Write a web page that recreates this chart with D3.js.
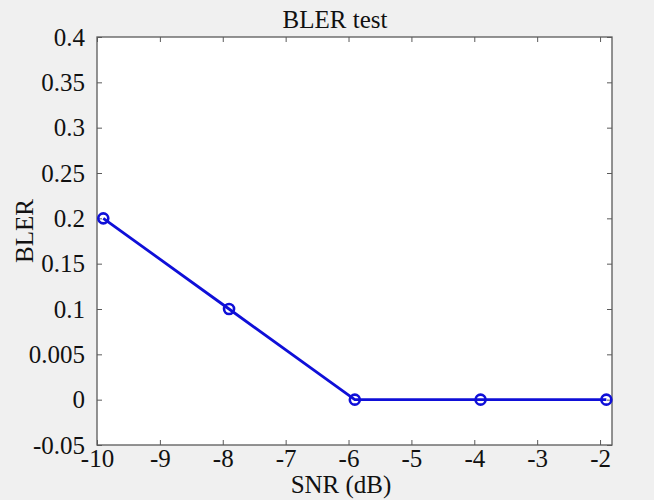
<!DOCTYPE html>
<html><head><meta charset="utf-8">
<script src="https://cdn.jsdelivr.net/npm/d3@7"></script>
<style>
html,body{margin:0;padding:0;background:#f0f0f0;}
svg{display:block;}
text{font-family:"Liberation Serif","Times New Roman",serif;fill:#111;}
</style></head><body>
<svg id="chart" width="654" height="500"></svg>
<script>
const snr = [-9.9, -7.9, -5.9, -3.9, -1.9];
const bler = [0.2, 0.1, 0, 0, 0];
const xTicks = [-10, -9, -8, -7, -6, -5, -4, -3, -2];
const xTickLabels = ["-10", "-9", "-8", "-7", "-6", "-5", "-4", "-3", "-2"];
const yTicks = [-0.05, 0, 0.05, 0.1, 0.15, 0.2, 0.25, 0.3, 0.35, 0.4];
const yTickLabels = ["-0.05", "0", "0.005", "0.1", "0.15", "0.2", "0.25", "0.3", "0.35", "0.4"];
const xDomain = [-10, -1.81];
const yDomain = [-0.05, 0.4];
const title = "BLER test";
const xLabel = "SNR (dB)";
const yLabel = "BLER";

const svg = d3.select("#chart");
const L = 97, R = 612, T = 37, B = 445;
const x = d3.scaleLinear().domain(xDomain).range([L, R]);
const y = d3.scaleLinear().domain(yDomain).range([B, T]);
const axisColor = "#5a5a5a";

svg.append("rect").attr("x", 0).attr("y", 0).attr("width", 654).attr("height", 500).attr("fill", "#f0f0f0");
svg.append("rect").attr("x", L).attr("y", T).attr("width", R - L).attr("height", B - T).attr("fill", "#fff");

const fs = 25;
function styleAxis(g) {
  g.attr("font-family", null);
  g.select(".domain").remove();
  g.selectAll(".tick line").attr("stroke", axisColor).attr("stroke-width", 1);
  g.selectAll(".tick text").attr("font-size", fs).attr("fill", "#111");
}
// bottom
const gx = svg.append("g").attr("transform", `translate(0,${B})`)
  .call(d3.axisBottom(x).tickValues(xTicks).tickFormat((d, i) => xTickLabels[i]).tickSizeInner(-5).tickPadding(4));
styleAxis(gx);
// top
const gxt = svg.append("g").attr("transform", `translate(0,${T})`)
  .call(d3.axisTop(x).tickValues(xTicks).tickFormat("").tickSizeInner(-5));
styleAxis(gxt);
// left
const gy = svg.append("g").attr("transform", `translate(${L},0)`)
  .call(d3.axisLeft(y).tickValues(yTicks).tickFormat((d, i) => yTickLabels[i]).tickSizeInner(-5).tickPadding(12));
styleAxis(gy);
// right
const gyr = svg.append("g").attr("transform", `translate(${R},0)`)
  .call(d3.axisRight(y).tickValues(yTicks).tickFormat("").tickSizeInner(-5));
styleAxis(gyr);

svg.append("rect").attr("x", L).attr("y", T).attr("width", R - L).attr("height", B - T)
  .attr("fill", "none").attr("stroke", axisColor).attr("stroke-width", 1.3);

const pts = snr.map((s, i) => [s, bler[i]]);
const line = d3.line().x(d => x(d[0])).y(d => y(d[1]));
svg.append("path").datum(pts).attr("d", line).attr("fill", "none")
  .attr("stroke", "#0f0fd8").attr("stroke-width", 2.8);
svg.selectAll("circle.m").data(pts).enter().append("circle").attr("class", "m")
  .attr("cx", d => x(d[0])).attr("cy", d => y(d[1])).attr("r", 5)
  .attr("fill", "none").attr("stroke", "#0f0fd8").attr("stroke-width", 2.6);

svg.append("text").attr("x", 335).attr("y", 28).attr("text-anchor", "middle").attr("font-size", fs).text(title);
svg.append("text").attr("x", 341).attr("y", 493).attr("text-anchor", "middle").attr("font-size", fs).text(xLabel);
svg.append("text").attr("transform", "translate(33,231) rotate(-90)").attr("text-anchor", "middle").attr("font-size", fs).text(yLabel);
</script>
</body></html>
